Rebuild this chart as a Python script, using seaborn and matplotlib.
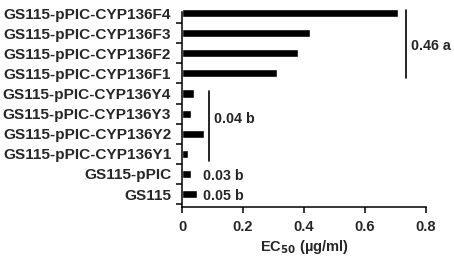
import pandas as pd
import seaborn as sns
import matplotlib.pyplot as plt
from matplotlib.ticker import FixedLocator

# EC50 values (µg/ml)
strains = ['GS115-pPIC-CYP136F4', 'GS115-pPIC-CYP136F3', 'GS115-pPIC-CYP136F2',
           'GS115-pPIC-CYP136F1', 'GS115-pPIC-CYP136Y4', 'GS115-pPIC-CYP136Y3',
           'GS115-pPIC-CYP136Y2', 'GS115-pPIC-CYP136Y1', 'GS115-pPIC', 'GS115']
ec50 = [0.71, 0.42, 0.38, 0.31, 0.04, 0.03, 0.07, 0.02, 0.03, 0.05]
xticks = [0, 0.2, 0.4, 0.6, 0.8]
xtick_labels = ['0', '0.2', '0.4', '0.6', '0.8']

df = pd.DataFrame({'strain': strains, 'ec50': ec50})

sns.set_style('ticks')
plt.rcParams['font.family'] = ['Liberation Sans', 'DejaVu Sans']
plt.rcParams['font.weight'] = 'bold'

fig = plt.figure(figsize=(4.54, 2.56), dpi=100)
ax = fig.add_axes([0.4015, 0.191, 0.536, 0.762])

sns.barplot(data=df, x='ec50', y='strain', orient='h', color='black',
            width=0.4, saturation=1, ax=ax)
for p in ax.patches:
    p.set_clip_on(False)

ax.set_xlim(0, 0.8)
ax.set_ylim(9.65, -0.05)
ax.set_xticks(xticks)
ax.set_xticklabels(xtick_labels, fontsize=10.5, fontweight='bold')
ax.set_yticks(range(len(strains)))
ax.set_yticklabels(strains, fontsize=11.1, fontweight='bold')
ax.yaxis.set_minor_locator(FixedLocator([i + 0.5 for i in range(-1, 10)]))
ax.tick_params(axis='y', which='major', length=0, pad=8)
ax.tick_params(axis='y', which='minor', length=4, width=1.1, color='black')
ax.tick_params(axis='x', length=4, width=1.1, color='black', pad=5)
ax.set_ylabel('')
ax.set_xlabel('EC$_{50}$ (µg/ml)', fontsize=10.5, fontweight='bold', labelpad=3)
sns.despine(ax=ax)
for s in ['left', 'bottom']:
    ax.spines[s].set_linewidth(1.1)
    ax.spines[s].set_color('black')

# group brackets and labels
ax.plot([0.736, 0.736], [-0.15, 3.25], color='black', lw=1.2, clip_on=False)
ax.text(0.753, 1.65, '0.46 a', fontsize=10.3, fontweight='bold', va='center')
ax.plot([0.089, 0.089], [3.9, 7.35], color='black', lw=1.2)
ax.text(0.105, 5.25, '0.04 b', fontsize=10.3, fontweight='bold', va='center')
ax.text(0.069, 8.1, '0.03 b', fontsize=10.3, fontweight='bold', va='center')
ax.text(0.069, 9.1, '0.05 b', fontsize=10.3, fontweight='bold', va='center')

fig.savefig('out.png', dpi=100)
